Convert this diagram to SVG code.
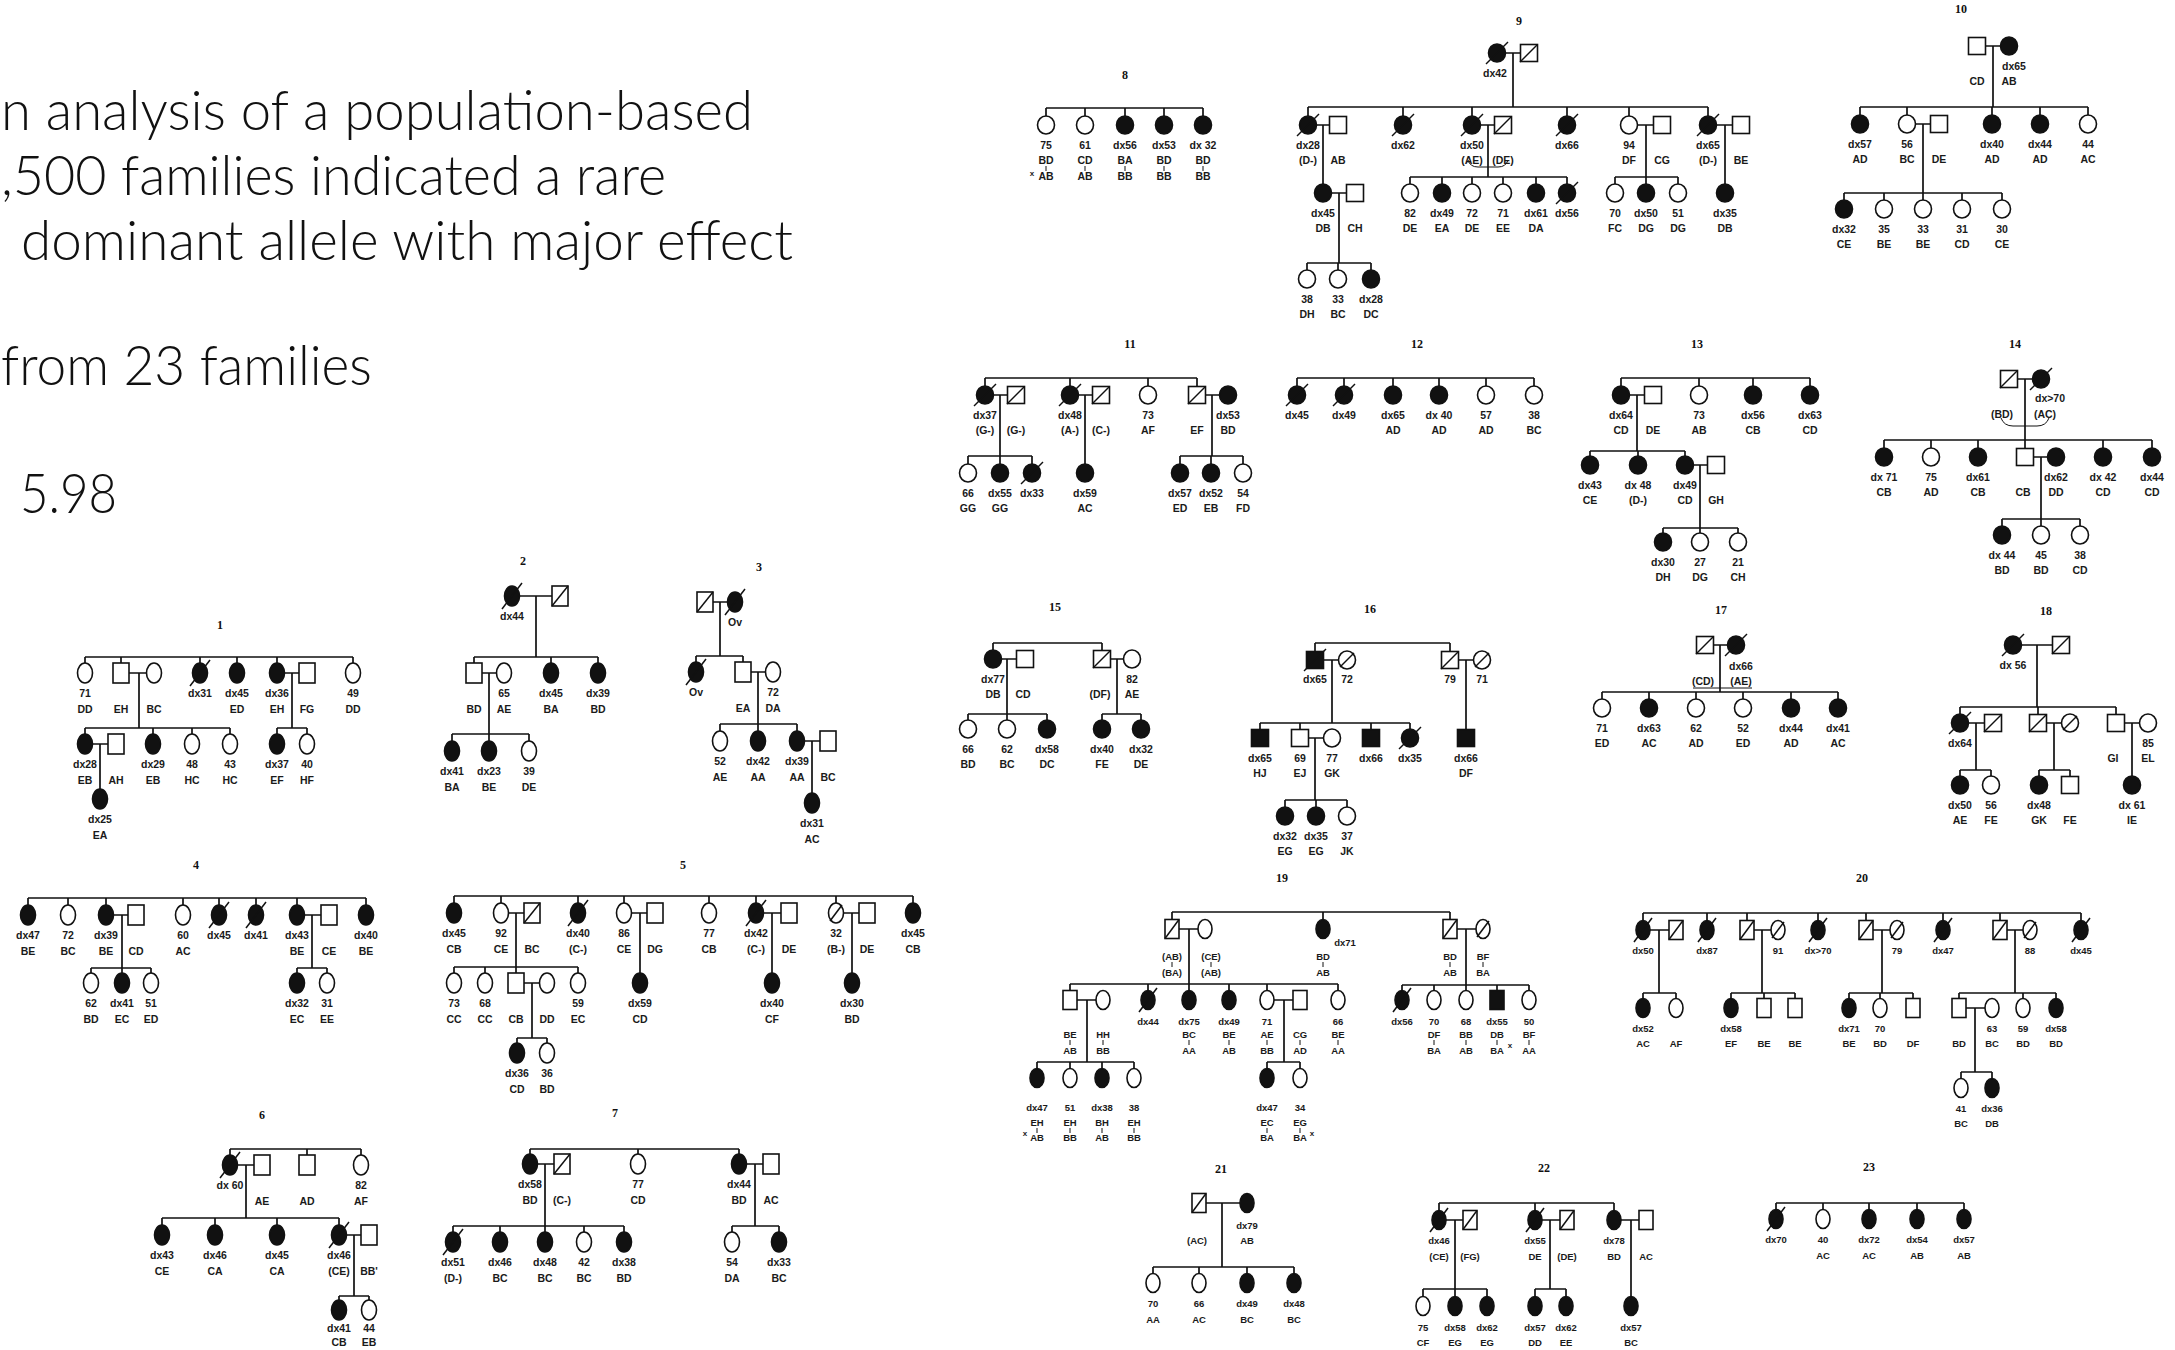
<svg xmlns="http://www.w3.org/2000/svg" width="2175" height="1350" viewBox="0 0 2175 1350">
<style>
.hd{font-family:Lato,'Open Sans','Liberation Sans',sans-serif;font-weight:300;font-size:55px;fill:#111}
.tt{font-family:'Liberation Serif','Times New Roman',serif;font-weight:bold;font-size:12px;text-anchor:middle;fill:#111}
.n text{font-family:'Liberation Sans',Arial,sans-serif;font-weight:bold;font-size:10.5px;text-anchor:middle;fill:#1a1a1a}
.s text{font-size:9.5px}
.n .x{font-size:8px}
.o{fill:#fff;stroke:#111;stroke-width:1.6}
.f{fill:#111;stroke:#111;stroke-width:1.6}
.sl{stroke:#111;stroke-width:1.5;fill:none}
.tk{stroke:#111;stroke-width:1;fill:none}
#connectors path{fill:none;stroke:#111;stroke-width:1.7}
#connectors path.br{stroke-width:1}
</style>
<defs>
<!-- pedigrees 1-7 -->
<ellipse id="aO" class="o" rx="7.5" ry="10"/>
<ellipse id="aF" class="f" rx="7.5" ry="10"/>
<rect id="aS" class="o" x="-8" y="-10" width="16" height="20"/>
<g id="aSX"><rect class="o" x="-8" y="-10" width="16" height="20"/><path class="sl" d="M-8,10L8,-10"/></g>
<g id="aOX"><ellipse class="o" rx="7.5" ry="10"/><path class="sl" d="M-6,8L6,-8"/></g>
<g id="aFX"><ellipse class="f" rx="7.5" ry="10"/><path class="sl" d="M-10,13L10,-13"/></g>
<!-- pedigrees 8-18 -->
<ellipse id="bO" class="o" rx="8.5" ry="9"/>
<ellipse id="bF" class="f" rx="8.5" ry="9"/>
<rect id="bS" class="o" x="-8.5" y="-8.5" width="17" height="17"/>
<rect id="bSF" class="f" x="-8.5" y="-8.5" width="17" height="17"/>
<g id="bSX"><rect class="o" x="-8.5" y="-8.5" width="17" height="17"/><path class="sl" d="M-9,9L8.5,-8.5"/></g>
<g id="bOX"><ellipse class="o" rx="8.5" ry="9"/><path class="sl" d="M-7,7L7,-7"/></g>
<g id="bFX"><ellipse class="f" rx="8.5" ry="9"/><path class="sl" d="M-11,11L11,-11"/></g>
<g id="bSFX"><rect class="f" x="-8.5" y="-8.5" width="17" height="17"/><path class="sl" d="M-11,11L11,-11"/></g>
<!-- pedigrees 19-23 -->
<ellipse id="cO" class="o" rx="7" ry="9.5"/>
<ellipse id="cF" class="f" rx="7" ry="9.5"/>
<rect id="cS" class="o" x="-7" y="-9.5" width="14" height="19"/>
<rect id="cSF" class="f" x="-7" y="-9.5" width="14" height="19"/>
<g id="cSX"><rect class="o" x="-7" y="-9.5" width="14" height="19"/><path class="sl" d="M-7,9.5L7,-9.5"/></g>
<g id="cOX"><ellipse class="o" rx="7" ry="9.5"/><path class="sl" d="M-6,8L6,-8"/></g>
<g id="cFX"><ellipse class="f" rx="7" ry="9.5"/><path class="sl" d="M-9,12L9,-12"/></g>
</defs>
<rect width="2175" height="1350" fill="#fff"/>

<g id="summary">
<text class="hd" x="1" y="130" textLength="752" lengthAdjust="spacingAndGlyphs">n analysis of a population-based</text>
<text class="hd" x="1" y="195" textLength="665" lengthAdjust="spacingAndGlyphs">,500 families indicated a rare</text>
<text class="hd" x="21" y="260" textLength="772" lengthAdjust="spacingAndGlyphs">dominant allele with major effect</text>
<text class="hd" x="1" y="385" textLength="371" lengthAdjust="spacingAndGlyphs">from 23 families</text>
<text class="hd" x="20" y="513" textLength="97" lengthAdjust="spacingAndGlyphs">5.98</text>
</g>

<g id="connectors">
<path id="c1" d="M85,657H353M85,657V663M121,657V663M200,657V663M237,657V663M277,657V663M353,657V663M129,673H146.5M139,673V728M284.5,673H299M292,673V728M85,728H230M85,728V734M153,728V734M192,728V734M230,728V734M92.5,744H108M100,744V789M277,728H307M277,728V734M307,728V734"/>
<path id="c2" d="M519.5,596H552M536,596V657M474,657H598M474,657V663M551,657V663M598,657V663M482,673H496.5M489,673V734M452,734H529M452,734V741M489,734V741M529,734V741"/>
<path id="c3" d="M713,602H727.5M720,602V656M696,656H743M696,656V662M743,656V662M751,672H765.5M758,672V724M720,724H797M720,724V731M758,724V731M797,724V731M804.5,741H820M812,741V793"/>
<path id="c4" d="M28,898H366M28,898V905M68,898V905M106,898V905M183,898V905M219,898V905M256,898V905M297,898V905M366,898V905M113.5,915H128M122,915V968M304.5,915H321M312,915V968M91,968H151M91,968V973M122,968V973M151,968V973M297,968H327M297,968V973M327,968V973"/>
<path id="c5" d="M454,896H913M454,896V903M501,896V903M578,896V903M624,896V903M709,896V903M756,896V903M836,896V903M913,896V903M508.5,913H524M516,913V967M631.5,913H647M640,913V973M763.5,913H781M772,913V973M843.5,913H859M852,913V973M454,967H578M454,967V973M485,967V973M516,967V973M578,967V973M524,983H539.5M532,983V1038M517,1038H547M517,1038V1043M547,1038V1043"/>
<path id="c6" d="M230,1149H361M230,1149V1155M307,1149V1155M361,1149V1155M237.5,1165H254M246,1165V1218M162,1218H339M162,1218V1225M215,1218V1225M277,1218V1225M339,1218V1225M346.5,1235H361M354,1235V1296M339,1296H369M339,1296V1300M369,1296V1300"/>
<path id="c7" d="M530,1149H739M530,1149V1154M638,1149V1154M739,1149V1154M537.5,1164H554M545,1164V1226M746.5,1164H763M755,1164V1226M453,1226H624M453,1226V1232M500,1226V1232M545,1226V1232M584,1226V1232M624,1226V1232M732,1226H779M732,1226V1232M779,1226V1232"/>
<path id="c8" d="M1046,108H1203M1046,108V116M1085,108V116M1125,108V116M1164,108V116M1203,108V116"/>
<path id="c9" d="M1505.5,53H1520.5M1513,53V107M1308,107H1708M1308,107V116M1403,107V116M1472,107V116M1567,107V116M1629,107V116M1708,107V116M1316.5,125H1329.5M1323,125V184M1480.5,125H1494.5M1488,125V177M1637.5,125H1653.5M1646,125V177M1716.5,125H1732.5M1725,125V184M1410,177H1567M1410,177V184M1442,177V184M1472,177V184M1503,177V184M1536,177V184M1567,177V184M1615,177H1678M1615,177V184M1646,177V184M1678,177V184M1331.5,193H1346.5M1339,193V263M1307,263H1371M1307,263V270M1338,263V270M1371,263V270"/>
<path class="br" d="M1468,160Q1470,167 1478,167H1498Q1506,167 1508,160"/>
<path id="c10" d="M1985.5,46H2000.5M1993,46V107M1860,107H2088M1860,107V115M1907,107V115M1992,107V115M2040,107V115M2088,107V115M1915.5,124H1930.5M1923,124V193M1844,193H2002M1844,193V200M1884,193V200M1923,193V200M1962,193V200M2002,193V200"/>
<path id="c11" d="M985,378H1197M985,378V386M1070,378V386M1148,378V386M1197,378V386.5M993.5,395H1007.5M1000,395V456M1078.5,395H1092.5M1085,395V464M1205.5,395H1219.5M1212,395V456M968,456H1032M968,456V464M1000,456V464M1032,456V464M1180,456H1243M1180,456V464M1211,456V464M1243,456V464"/>
<path id="c12" d="M1297,378H1534M1297,378V386M1344,378V386M1393,378V386M1439,378V386M1486,378V386M1534,378V386"/>
<path id="c13" d="M1621,378H1810M1621,378V386M1699,378V386M1753,378V386M1810,378V386M1629.5,395H1644.5M1637,395V451M1590,451H1685M1590,451V456M1638,451V456M1685,451V456M1693.5,465H1707.5M1700,465V528M1663,528H1738M1663,528V533M1700,528V533M1738,528V533"/>
<path id="c14" d="M2017.5,379H2032.5M2025,379V440M1884,440H2152M1884,440V448M1931,440V448M1978,440V448M2025,440V448.5M2103,440V448M2152,440V448M2033.5,457H2047.5M2041,457V519M2002,519H2080M2002,519V526M2041,519V526M2080,519V526"/>
<path class="br" d="M2001,418Q2004,426 2013,426H2037Q2046,426 2049,418"/>
<path id="c15" d="M993,643H1102M993,643V650M1102,643V650.5M1001.5,659H1016.5M1007,659V714M1110.5,659H1123.5M1117,659V714M968,714H1047M968,714V720M1007,714V720M1047,714V720M1102,714H1141M1102,714V720M1141,714V720"/>
<path id="c16" d="M1315,643H1450M1315,643V651.5M1450,643V651.5M1323.5,660H1338.5M1332,660V723M1458.5,660H1473.5M1466,660V729.5M1260,723H1410M1260,723V729.5M1300,723V729.5M1371,723V729.5M1410,723V729M1308.5,738H1323.5M1315,738V800M1285,800H1347M1285,800V807M1316,800V807M1347,800V807"/>
<path id="c17" d="M1713.5,645H1727.5M1720,645V692M1602,692H1838M1602,692V699M1649,692V699M1696,692V699M1743,692V699M1791,692V699M1838,692V699"/>
<path class="br" d="M1693,688H1752"/>
<path id="c18" d="M2021.5,645H2052.5M2037,645V707M1960,707H2116M1960,707V714M2038,707V714.5M2116,707V714.5M1968.5,723H1984.5M1976,723V770M2046.5,723H2061.5M2054,723V770M2124.5,723H2139.5M2132,723V776M1960,770H1991M1960,770V776M1991,770V776M2039,770H2070M2039,770V776M2070,770V776.5"/>
<path id="c19" d="M1172,912H1450M1172,912V919.5M1323,912V919.5M1450,912V919.5M1179,929H1198M1189,929V984M1457,929H1476M1466,929V985M1070,984H1338M1070,984V990.5M1148,984V990.5M1189,984V990.5M1229,984V990.5M1267,984V990.5M1338,984V990.5M1077,1000H1096M1087,1000V1062M1274,1000H1293M1284,1000V1062M1402,985H1529M1402,985V990.5M1434,985V990.5M1466,985V990.5M1497,985V990.5M1529,985V990.5M1037,1062H1134M1037,1062V1068.5M1070,1062V1068.5M1102,1062V1068.5M1134,1062V1068.5M1267,1062H1300M1267,1062V1068.5M1300,1062V1068.5"/>
<path id="c20" d="M1643,913H2081M1643,913V920.5M1707,913V920.5M1747,913V920.5M1818,913V920.5M1866,913V920.5M1943,913V920.5M2000,913V920.5M2081,913V920.5M1650,930H1669M1659,930V993M1754,930H1771M1762,930V993M1873,930H1890M1882,930V993M2007,930H2023M2015,930V993M1643,993H1676M1643,993V998.5M1676,993V998.5M1731,993H1795M1731,993V998.5M1764,993V998.5M1795,993V998.5M1849,993H1913M1849,993V998.5M1880,993V998.5M1913,993V998.5M1959,993H2056M1959,993V998.5M2023,993V998.5M2056,993V998.5M1966,1008H1985M1975,1008V1072M1961,1072H1992M1961,1072V1078.5M1992,1072V1078.5"/>
<path id="c21" d="M1206,1203H1240M1222,1203V1267M1153,1267H1294M1153,1267V1273.5M1199,1267V1273.5M1247,1267V1273.5M1294,1267V1273.5"/>
<path id="c22" d="M1439,1203H1614M1439,1203V1210.5M1535,1203V1210.5M1614,1203V1210.5M1446,1220H1463M1455,1220V1289M1542,1220H1560M1550,1220V1289M1621,1220H1639M1631,1220V1296.5M1423,1289H1487M1423,1289V1296.5M1455,1289V1296.5M1487,1289V1296.5M1535,1289H1566M1535,1289V1296.5M1566,1289V1296.5"/>
<path id="c23" d="M1776,1203H1964M1776,1203V1209.5M1823,1203V1209.5M1869,1203V1209.5M1917,1203V1209.5M1964,1203V1209.5"/>
</g>

<g id="pedigree-1">
<text class="tt" x="220" y="629">1</text>
<g id="p1-01" class="n" transform="translate(85,673)"><use href="#aO"/><text y="24">71</text><text y="40">DD</text></g>
<g id="p1-02" class="n" transform="translate(121,673)"><use href="#aS"/><text y="40">EH</text></g>
<g id="p1-03" class="n" transform="translate(154,673)"><use href="#aO"/><text y="40">BC</text></g>
<g id="p1-04" class="n" transform="translate(200,673)"><use href="#aFX"/><text y="24">dx31</text></g>
<g id="p1-05" class="n" transform="translate(237,673)"><use href="#aF"/><text y="24">dx45</text><text y="40">ED</text></g>
<g id="p1-06" class="n" transform="translate(277,673)"><use href="#aF"/><text y="24">dx36</text><text y="40">EH</text></g>
<g id="p1-07" class="n" transform="translate(307,673)"><use href="#aS"/><text y="40">FG</text></g>
<g id="p1-08" class="n" transform="translate(353,673)"><use href="#aO"/><text y="24">49</text><text y="40">DD</text></g>
<g id="p1-09" class="n" transform="translate(85,744)"><use href="#aF"/><text y="24">dx28</text><text y="40">EB</text></g>
<g id="p1-10" class="n" transform="translate(116,744)"><use href="#aS"/><text y="40">AH</text></g>
<g id="p1-11" class="n" transform="translate(153,744)"><use href="#aF"/><text y="24">dx29</text><text y="40">EB</text></g>
<g id="p1-12" class="n" transform="translate(192,744)"><use href="#aO"/><text y="24">48</text><text y="40">HC</text></g>
<g id="p1-13" class="n" transform="translate(230,744)"><use href="#aO"/><text y="24">43</text><text y="40">HC</text></g>
<g id="p1-14" class="n" transform="translate(277,744)"><use href="#aF"/><text y="24">dx37</text><text y="40">EF</text></g>
<g id="p1-15" class="n" transform="translate(307,744)"><use href="#aO"/><text y="24">40</text><text y="40">HF</text></g>
<g id="p1-16" class="n" transform="translate(100,799)"><use href="#aF"/><text y="24">dx25</text><text y="40">EA</text></g>
</g>

<g id="pedigree-2">
<text class="tt" x="523" y="565">2</text>
<g id="p2-01" class="n" transform="translate(512,596)"><use href="#aFX"/><text y="24">dx44</text></g>
<g id="p2-02" class="n" transform="translate(560,596)"><use href="#aSX"/></g>
<g id="p2-03" class="n" transform="translate(474,673)"><use href="#aS"/><text y="40">BD</text></g>
<g id="p2-04" class="n" transform="translate(504,673)"><use href="#aO"/><text y="24">65</text><text y="40">AE</text></g>
<g id="p2-05" class="n" transform="translate(551,673)"><use href="#aF"/><text y="24">dx45</text><text y="40">BA</text></g>
<g id="p2-06" class="n" transform="translate(598,673)"><use href="#aF"/><text y="24">dx39</text><text y="40">BD</text></g>
<g id="p2-07" class="n" transform="translate(452,751)"><use href="#aF"/><text y="24">dx41</text><text y="40">BA</text></g>
<g id="p2-08" class="n" transform="translate(489,751)"><use href="#aF"/><text y="24">dx23</text><text y="40">BE</text></g>
<g id="p2-09" class="n" transform="translate(529,751)"><use href="#aO"/><text y="24">39</text><text y="40">DE</text></g>
</g>

<g id="pedigree-3">
<text class="tt" x="759" y="571">3</text>
<g id="p3-01" class="n" transform="translate(705,602)"><use href="#aSX"/></g>
<g id="p3-02" class="n" transform="translate(735,602)"><use href="#aFX"/><text y="24">Ov</text></g>
<g id="p3-03" class="n" transform="translate(696,672)"><use href="#aFX"/><text y="24">Ov</text></g>
<g id="p3-04" class="n" transform="translate(743,672)"><use href="#aS"/><text y="40">EA</text></g>
<g id="p3-05" class="n" transform="translate(773,672)"><use href="#aO"/><text y="24">72</text><text y="40">DA</text></g>
<g id="p3-06" class="n" transform="translate(720,741)"><use href="#aO"/><text y="24">52</text><text y="40">AE</text></g>
<g id="p3-07" class="n" transform="translate(758,741)"><use href="#aF"/><text y="24">dx42</text><text y="40">AA</text></g>
<g id="p3-08" class="n" transform="translate(797,741)"><use href="#aF"/><text y="24">dx39</text><text y="40">AA</text></g>
<g id="p3-09" class="n" transform="translate(828,741)"><use href="#aS"/><text y="40">BC</text></g>
<g id="p3-10" class="n" transform="translate(812,803)"><use href="#aF"/><text y="24">dx31</text><text y="40">AC</text></g>
</g>

<g id="pedigree-4">
<text class="tt" x="196" y="869">4</text>
<g id="p4-01" class="n" transform="translate(28,915)"><use href="#aF"/><text y="24">dx47</text><text y="40">BE</text></g>
<g id="p4-02" class="n" transform="translate(68,915)"><use href="#aO"/><text y="24">72</text><text y="40">BC</text></g>
<g id="p4-03" class="n" transform="translate(106,915)"><use href="#aF"/><text y="24">dx39</text><text y="40">BE</text></g>
<g id="p4-04" class="n" transform="translate(136,915)"><use href="#aS"/><text y="40">CD</text></g>
<g id="p4-05" class="n" transform="translate(183,915)"><use href="#aO"/><text y="24">60</text><text y="40">AC</text></g>
<g id="p4-06" class="n" transform="translate(219,915)"><use href="#aFX"/><text y="24">dx45</text></g>
<g id="p4-07" class="n" transform="translate(256,915)"><use href="#aFX"/><text y="24">dx41</text></g>
<g id="p4-08" class="n" transform="translate(297,915)"><use href="#aF"/><text y="24">dx43</text><text y="40">BE</text></g>
<g id="p4-09" class="n" transform="translate(329,915)"><use href="#aS"/><text y="40">CE</text></g>
<g id="p4-10" class="n" transform="translate(366,915)"><use href="#aF"/><text y="24">dx40</text><text y="40">BE</text></g>
<g id="p4-11" class="n" transform="translate(91,983)"><use href="#aO"/><text y="24">62</text><text y="40">BD</text></g>
<g id="p4-12" class="n" transform="translate(122,983)"><use href="#aF"/><text y="24">dx41</text><text y="40">EC</text></g>
<g id="p4-13" class="n" transform="translate(151,983)"><use href="#aO"/><text y="24">51</text><text y="40">ED</text></g>
<g id="p4-14" class="n" transform="translate(297,983)"><use href="#aF"/><text y="24">dx32</text><text y="40">EC</text></g>
<g id="p4-15" class="n" transform="translate(327,983)"><use href="#aO"/><text y="24">31</text><text y="40">EE</text></g>
</g>

<g id="pedigree-5">
<text class="tt" x="683" y="869">5</text>
<g id="p5-01" class="n" transform="translate(454,913)"><use href="#aF"/><text y="24">dx45</text><text y="40">CB</text></g>
<g id="p5-02" class="n" transform="translate(501,913)"><use href="#aO"/><text y="24">92</text><text y="40">CE</text></g>
<g id="p5-03" class="n" transform="translate(532,913)"><use href="#aSX"/><text y="40">BC</text></g>
<g id="p5-04" class="n" transform="translate(578,913)"><use href="#aFX"/><text y="24">dx40</text><text y="40">(C-)</text></g>
<g id="p5-05" class="n" transform="translate(624,913)"><use href="#aO"/><text y="24">86</text><text y="40">CE</text></g>
<g id="p5-06" class="n" transform="translate(655,913)"><use href="#aS"/><text y="40">DG</text></g>
<g id="p5-07" class="n" transform="translate(709,913)"><use href="#aO"/><text y="24">77</text><text y="40">CB</text></g>
<g id="p5-08" class="n" transform="translate(756,913)"><use href="#aFX"/><text y="24">dx42</text><text y="40">(C-)</text></g>
<g id="p5-09" class="n" transform="translate(789,913)"><use href="#aS"/><text y="40">DE</text></g>
<g id="p5-10" class="n" transform="translate(836,913)"><use href="#aOX"/><text y="24">32</text><text y="40">(B-)</text></g>
<g id="p5-11" class="n" transform="translate(867,913)"><use href="#aS"/><text y="40">DE</text></g>
<g id="p5-12" class="n" transform="translate(913,913)"><use href="#aF"/><text y="24">dx45</text><text y="40">CB</text></g>
<g id="p5-13" class="n" transform="translate(454,983)"><use href="#aO"/><text y="24">73</text><text y="40">CC</text></g>
<g id="p5-14" class="n" transform="translate(485,983)"><use href="#aO"/><text y="24">68</text><text y="40">CC</text></g>
<g id="p5-15" class="n" transform="translate(516,983)"><use href="#aS"/><text y="40">CB</text></g>
<g id="p5-16" class="n" transform="translate(547,983)"><use href="#aO"/><text y="40">DD</text></g>
<g id="p5-17" class="n" transform="translate(578,983)"><use href="#aO"/><text y="24">59</text><text y="40">EC</text></g>
<g id="p5-18" class="n" transform="translate(640,983)"><use href="#aF"/><text y="24">dx59</text><text y="40">CD</text></g>
<g id="p5-19" class="n" transform="translate(772,983)"><use href="#aF"/><text y="24">dx40</text><text y="40">CF</text></g>
<g id="p5-20" class="n" transform="translate(852,983)"><use href="#aF"/><text y="24">dx30</text><text y="40">BD</text></g>
<g id="p5-21" class="n" transform="translate(517,1053)"><use href="#aF"/><text y="24">dx36</text><text y="40">CD</text></g>
<g id="p5-22" class="n" transform="translate(547,1053)"><use href="#aO"/><text y="24">36</text><text y="40">BD</text></g>
</g>

<g id="pedigree-6">
<text class="tt" x="262" y="1119">6</text>
<g id="p6-01" class="n" transform="translate(230,1165)"><use href="#aFX"/><text y="24">dx 60</text></g>
<g id="p6-02" class="n" transform="translate(262,1165)"><use href="#aS"/><text y="40">AE</text></g>
<g id="p6-03" class="n" transform="translate(307,1165)"><use href="#aS"/><text y="40">AD</text></g>
<g id="p6-04" class="n" transform="translate(361,1165)"><use href="#aO"/><text y="24">82</text><text y="40">AF</text></g>
<g id="p6-05" class="n" transform="translate(162,1235)"><use href="#aF"/><text y="24">dx43</text><text y="40">CE</text></g>
<g id="p6-06" class="n" transform="translate(215,1235)"><use href="#aF"/><text y="24">dx46</text><text y="40">CA</text></g>
<g id="p6-07" class="n" transform="translate(277,1235)"><use href="#aF"/><text y="24">dx45</text><text y="40">CA</text></g>
<g id="p6-08" class="n" transform="translate(339,1235)"><use href="#aFX"/><text y="24">dx46</text><text y="40">(CE)</text></g>
<g id="p6-09" class="n" transform="translate(369,1235)"><use href="#aS"/><text y="40">BB'</text></g>
<g id="p6-10" class="n" transform="translate(339,1310)"><use href="#aF"/><text y="22">dx41</text><text y="36">CB</text></g>
<g id="p6-11" class="n" transform="translate(369,1310)"><use href="#aO"/><text y="22">44</text><text y="36">EB</text></g>
</g>

<g id="pedigree-7">
<text class="tt" x="615" y="1117">7</text>
<g id="p7-01" class="n" transform="translate(530,1164)"><use href="#aF"/><text y="24">dx58</text><text y="40">BD</text></g>
<g id="p7-02" class="n" transform="translate(562,1164)"><use href="#aSX"/><text y="40">(C-)</text></g>
<g id="p7-03" class="n" transform="translate(638,1164)"><use href="#aO"/><text y="24">77</text><text y="40">CD</text></g>
<g id="p7-04" class="n" transform="translate(739,1164)"><use href="#aF"/><text y="24">dx44</text><text y="40">BD</text></g>
<g id="p7-05" class="n" transform="translate(771,1164)"><use href="#aS"/><text y="40">AC</text></g>
<g id="p7-06" class="n" transform="translate(453,1242)"><use href="#aFX"/><text y="24">dx51</text><text y="40">(D-)</text></g>
<g id="p7-07" class="n" transform="translate(500,1242)"><use href="#aF"/><text y="24">dx46</text><text y="40">BC</text></g>
<g id="p7-08" class="n" transform="translate(545,1242)"><use href="#aF"/><text y="24">dx48</text><text y="40">BC</text></g>
<g id="p7-09" class="n" transform="translate(584,1242)"><use href="#aO"/><text y="24">42</text><text y="40">BC</text></g>
<g id="p7-10" class="n" transform="translate(624,1242)"><use href="#aF"/><text y="24">dx38</text><text y="40">BD</text></g>
<g id="p7-11" class="n" transform="translate(732,1242)"><use href="#aO"/><text y="24">54</text><text y="40">DA</text></g>
<g id="p7-12" class="n" transform="translate(779,1242)"><use href="#aF"/><text y="24">dx33</text><text y="40">BC</text></g>
</g>

<g id="pedigree-8">
<text class="tt" x="1125" y="79">8</text>
<g id="p8-01" class="n" transform="translate(1046,125)"><use href="#bO"/><text y="24">75</text><text y="39">BD</text><path class="tk" d="M0,41v5"/><text y="55">AB</text><text class="x" x="-14" y="51">x</text></g>
<g id="p8-02" class="n" transform="translate(1085,125)"><use href="#bO"/><text y="24">61</text><text y="39">CD</text><path class="tk" d="M0,41v5"/><text y="55">AB</text></g>
<g id="p8-03" class="n" transform="translate(1125,125)"><use href="#bF"/><text y="24">dx56</text><text y="39">BA</text><path class="tk" d="M0,41v5"/><text y="55">BB</text></g>
<g id="p8-04" class="n" transform="translate(1164,125)"><use href="#bF"/><text y="24">dx53</text><text y="39">BD</text><path class="tk" d="M0,41v5"/><text y="55">BB</text></g>
<g id="p8-05" class="n" transform="translate(1203,125)"><use href="#bF"/><text y="24">dx 32</text><text y="39">BD</text><path class="tk" d="M0,41v5"/><text y="55">BB</text></g>
</g>

<g id="pedigree-9">
<text class="tt" x="1519" y="25">9</text>
<g id="p9-01" class="n" transform="translate(1497,53)"><use href="#bFX"/><text x="-2" y="24">dx42</text></g>
<g id="p9-02" class="n" transform="translate(1529,53)"><use href="#bSX"/></g>
<g id="p9-03" class="n" transform="translate(1308,125)"><use href="#bFX"/><text y="24">dx28</text><text y="39">(D-)</text></g>
<g id="p9-04" class="n" transform="translate(1338,125)"><use href="#bS"/><text y="39">AB</text></g>
<g id="p9-05" class="n" transform="translate(1403,125)"><use href="#bFX"/><text y="24">dx62</text></g>
<g id="p9-06" class="n" transform="translate(1472,125)"><use href="#bFX"/><text y="24">dx50</text><text y="39">(AE)</text></g>
<g id="p9-07" class="n" transform="translate(1503,125)"><use href="#bSX"/><text y="39">(DE)</text></g>
<g id="p9-08" class="n" transform="translate(1567,125)"><use href="#bFX"/><text y="24">dx66</text></g>
<g id="p9-09" class="n" transform="translate(1629,125)"><use href="#bO"/><text y="24">94</text><text y="39">DF</text></g>
<g id="p9-10" class="n" transform="translate(1662,125)"><use href="#bS"/><text y="39">CG</text></g>
<g id="p9-11" class="n" transform="translate(1708,125)"><use href="#bFX"/><text y="24">dx65</text><text y="39">(D-)</text></g>
<g id="p9-12" class="n" transform="translate(1741,125)"><use href="#bS"/><text y="39">BE</text></g>
<g id="p9-13" class="n" transform="translate(1323,193)"><use href="#bF"/><text y="24">dx45</text><text y="39">DB</text></g>
<g id="p9-14" class="n" transform="translate(1355,193)"><use href="#bS"/><text y="39">CH</text></g>
<g id="p9-15" class="n" transform="translate(1410,193)"><use href="#bO"/><text y="24">82</text><text y="39">DE</text></g>
<g id="p9-16" class="n" transform="translate(1442,193)"><use href="#bF"/><text y="24">dx49</text><text y="39">EA</text></g>
<g id="p9-17" class="n" transform="translate(1472,193)"><use href="#bO"/><text y="24">72</text><text y="39">DE</text></g>
<g id="p9-18" class="n" transform="translate(1503,193)"><use href="#bO"/><text y="24">71</text><text y="39">EE</text></g>
<g id="p9-19" class="n" transform="translate(1536,193)"><use href="#bF"/><text y="24">dx61</text><text y="39">DA</text></g>
<g id="p9-20" class="n" transform="translate(1567,193)"><use href="#bFX"/><text y="24">dx56</text></g>
<g id="p9-21" class="n" transform="translate(1615,193)"><use href="#bO"/><text y="24">70</text><text y="39">FC</text></g>
<g id="p9-22" class="n" transform="translate(1646,193)"><use href="#bF"/><text y="24">dx50</text><text y="39">DG</text></g>
<g id="p9-23" class="n" transform="translate(1678,193)"><use href="#bO"/><text y="24">51</text><text y="39">DG</text></g>
<g id="p9-24" class="n" transform="translate(1725,193)"><use href="#bF"/><text y="24">dx35</text><text y="39">DB</text></g>
<g id="p9-25" class="n" transform="translate(1307,279)"><use href="#bO"/><text y="24">38</text><text y="39">DH</text></g>
<g id="p9-26" class="n" transform="translate(1338,279)"><use href="#bO"/><text y="24">33</text><text y="39">BC</text></g>
<g id="p9-27" class="n" transform="translate(1371,279)"><use href="#bF"/><text y="24">dx28</text><text y="39">DC</text></g>
</g>

<g id="pedigree-10">
<text class="tt" x="1961" y="13">10</text>
<g id="p10-01" class="n" transform="translate(1977,46)"><use href="#bS"/><text y="39">CD</text></g>
<g id="p10-02" class="n" transform="translate(2009,46)"><use href="#bF"/><text x="5" y="24">dx65</text><text y="39">AB</text></g>
<g id="p10-03" class="n" transform="translate(1860,124)"><use href="#bF"/><text y="24">dx57</text><text y="39">AD</text></g>
<g id="p10-04" class="n" transform="translate(1907,124)"><use href="#bO"/><text y="24">56</text><text y="39">BC</text></g>
<g id="p10-05" class="n" transform="translate(1939,124)"><use href="#bS"/><text y="39">DE</text></g>
<g id="p10-06" class="n" transform="translate(1992,124)"><use href="#bF"/><text y="24">dx40</text><text y="39">AD</text></g>
<g id="p10-07" class="n" transform="translate(2040,124)"><use href="#bF"/><text y="24">dx44</text><text y="39">AD</text></g>
<g id="p10-08" class="n" transform="translate(2088,124)"><use href="#bO"/><text y="24">44</text><text y="39">AC</text></g>
<g id="p10-09" class="n" transform="translate(1844,209)"><use href="#bF"/><text y="24">dx32</text><text y="39">CE</text></g>
<g id="p10-10" class="n" transform="translate(1884,209)"><use href="#bO"/><text y="24">35</text><text y="39">BE</text></g>
<g id="p10-11" class="n" transform="translate(1923,209)"><use href="#bO"/><text y="24">33</text><text y="39">BE</text></g>
<g id="p10-12" class="n" transform="translate(1962,209)"><use href="#bO"/><text y="24">31</text><text y="39">CD</text></g>
<g id="p10-13" class="n" transform="translate(2002,209)"><use href="#bO"/><text y="24">30</text><text y="39">CE</text></g>
</g>

<g id="pedigree-11">
<text class="tt" x="1130" y="348">11</text>
<g id="p11-01" class="n" transform="translate(985,395)"><use href="#bFX"/><text y="24">dx37</text><text y="39">(G-)</text></g>
<g id="p11-02" class="n" transform="translate(1016,395)"><use href="#bSX"/><text y="39">(G-)</text></g>
<g id="p11-03" class="n" transform="translate(1070,395)"><use href="#bFX"/><text y="24">dx48</text><text y="39">(A-)</text></g>
<g id="p11-04" class="n" transform="translate(1101,395)"><use href="#bSX"/><text y="39">(C-)</text></g>
<g id="p11-05" class="n" transform="translate(1148,395)"><use href="#bO"/><text y="24">73</text><text y="39">AF</text></g>
<g id="p11-06" class="n" transform="translate(1197,395)"><use href="#bSX"/><text y="39">EF</text></g>
<g id="p11-07" class="n" transform="translate(1228,395)"><use href="#bF"/><text y="24">dx53</text><text y="39">BD</text></g>
<g id="p11-08" class="n" transform="translate(968,473)"><use href="#bO"/><text y="24">66</text><text y="39">GG</text></g>
<g id="p11-09" class="n" transform="translate(1000,473)"><use href="#bF"/><text y="24">dx55</text><text y="39">GG</text></g>
<g id="p11-10" class="n" transform="translate(1032,473)"><use href="#bFX"/><text y="24">dx33</text></g>
<g id="p11-11" class="n" transform="translate(1085,473)"><use href="#bF"/><text y="24">dx59</text><text y="39">AC</text></g>
<g id="p11-12" class="n" transform="translate(1180,473)"><use href="#bF"/><text y="24">dx57</text><text y="39">ED</text></g>
<g id="p11-13" class="n" transform="translate(1211,473)"><use href="#bF"/><text y="24">dx52</text><text y="39">EB</text></g>
<g id="p11-14" class="n" transform="translate(1243,473)"><use href="#bO"/><text y="24">54</text><text y="39">FD</text></g>
</g>

<g id="pedigree-12">
<text class="tt" x="1417" y="348">12</text>
<g id="p12-01" class="n" transform="translate(1297,395)"><use href="#bFX"/><text y="24">dx45</text></g>
<g id="p12-02" class="n" transform="translate(1344,395)"><use href="#bFX"/><text y="24">dx49</text></g>
<g id="p12-03" class="n" transform="translate(1393,395)"><use href="#bF"/><text y="24">dx65</text><text y="39">AD</text></g>
<g id="p12-04" class="n" transform="translate(1439,395)"><use href="#bF"/><text y="24">dx 40</text><text y="39">AD</text></g>
<g id="p12-05" class="n" transform="translate(1486,395)"><use href="#bO"/><text y="24">57</text><text y="39">AD</text></g>
<g id="p12-06" class="n" transform="translate(1534,395)"><use href="#bO"/><text y="24">38</text><text y="39">BC</text></g>
</g>

<g id="pedigree-13">
<text class="tt" x="1697" y="348">13</text>
<g id="p13-01" class="n" transform="translate(1621,395)"><use href="#bF"/><text y="24">dx64</text><text y="39">CD</text></g>
<g id="p13-02" class="n" transform="translate(1653,395)"><use href="#bS"/><text y="39">DE</text></g>
<g id="p13-03" class="n" transform="translate(1699,395)"><use href="#bO"/><text y="24">73</text><text y="39">AB</text></g>
<g id="p13-04" class="n" transform="translate(1753,395)"><use href="#bF"/><text y="24">dx56</text><text y="39">CB</text></g>
<g id="p13-05" class="n" transform="translate(1810,395)"><use href="#bF"/><text y="24">dx63</text><text y="39">CD</text></g>
<g id="p13-06" class="n" transform="translate(1590,465)"><use href="#bF"/><text y="24">dx43</text><text y="39">CE</text></g>
<g id="p13-07" class="n" transform="translate(1638,465)"><use href="#bF"/><text y="24">dx 48</text><text y="39">(D-)</text></g>
<g id="p13-08" class="n" transform="translate(1685,465)"><use href="#bF"/><text y="24">dx49</text><text y="39">CD</text></g>
<g id="p13-09" class="n" transform="translate(1716,465)"><use href="#bS"/><text y="39">GH</text></g>
<g id="p13-10" class="n" transform="translate(1663,542)"><use href="#bF"/><text y="24">dx30</text><text y="39">DH</text></g>
<g id="p13-11" class="n" transform="translate(1700,542)"><use href="#bO"/><text y="24">27</text><text y="39">DG</text></g>
<g id="p13-12" class="n" transform="translate(1738,542)"><use href="#bO"/><text y="24">21</text><text y="39">CH</text></g>
</g>

<g id="pedigree-14">
<text class="tt" x="2015" y="348">14</text>
<g id="p14-01" class="n" transform="translate(2009,379)"><use href="#bSX"/><text x="-7" y="39">(BD)</text></g>
<g id="p14-02" class="n" transform="translate(2041,379)"><use href="#bFX"/><text x="9" y="23">dx&gt;70</text><text x="4" y="39">(AC)</text></g>
<g id="p14-03" class="n" transform="translate(1884,457)"><use href="#bF"/><text y="24">dx 71</text><text y="39">CB</text></g>
<g id="p14-04" class="n" transform="translate(1931,457)"><use href="#bO"/><text y="24">75</text><text y="39">AD</text></g>
<g id="p14-05" class="n" transform="translate(1978,457)"><use href="#bF"/><text y="24">dx61</text><text y="39">CB</text></g>
<g id="p14-06" class="n" transform="translate(2025,457)"><use href="#bS"/><text x="-2" y="39">CB</text></g>
<g id="p14-07" class="n" transform="translate(2056,457)"><use href="#bF"/><text y="24">dx62</text><text y="39">DD</text></g>
<g id="p14-08" class="n" transform="translate(2103,457)"><use href="#bF"/><text y="24">dx 42</text><text y="39">CD</text></g>
<g id="p14-09" class="n" transform="translate(2152,457)"><use href="#bF"/><text y="24">dx44</text><text y="39">CD</text></g>
<g id="p14-10" class="n" transform="translate(2002,535)"><use href="#bF"/><text y="24">dx 44</text><text y="39">BD</text></g>
<g id="p14-11" class="n" transform="translate(2041,535)"><use href="#bO"/><text y="24">45</text><text y="39">BD</text></g>
<g id="p14-12" class="n" transform="translate(2080,535)"><use href="#bO"/><text y="24">38</text><text y="39">CD</text></g>
</g>

<g id="pedigree-15">
<text class="tt" x="1055" y="611">15</text>
<g id="p15-01" class="n" transform="translate(993,659)"><use href="#bF"/><text y="24">dx77</text><text y="39">DB</text></g>
<g id="p15-02" class="n" transform="translate(1025,659)"><use href="#bS"/><text x="-2" y="39">CD</text></g>
<g id="p15-03" class="n" transform="translate(1102,659)"><use href="#bSX"/><text x="-2" y="39">(DF)</text></g>
<g id="p15-04" class="n" transform="translate(1132,659)"><use href="#bO"/><text y="24">82</text><text y="39">AE</text></g>
<g id="p15-05" class="n" transform="translate(968,729)"><use href="#bO"/><text y="24">66</text><text y="39">BD</text></g>
<g id="p15-06" class="n" transform="translate(1007,729)"><use href="#bO"/><text y="24">62</text><text y="39">BC</text></g>
<g id="p15-07" class="n" transform="translate(1047,729)"><use href="#bF"/><text y="24">dx58</text><text y="39">DC</text></g>
<g id="p15-08" class="n" transform="translate(1102,729)"><use href="#bF"/><text y="24">dx40</text><text y="39">FE</text></g>
<g id="p15-09" class="n" transform="translate(1141,729)"><use href="#bF"/><text y="24">dx32</text><text y="39">DE</text></g>
</g>

<g id="pedigree-16">
<text class="tt" x="1370" y="613">16</text>
<g id="p16-01" class="n" transform="translate(1315,660)"><use href="#bSFX"/><text y="23">dx65</text></g>
<g id="p16-02" class="n" transform="translate(1347,660)"><use href="#bOX"/><text y="23">72</text></g>
<g id="p16-03" class="n" transform="translate(1450,660)"><use href="#bSX"/><text y="23">79</text></g>
<g id="p16-04" class="n" transform="translate(1482,660)"><use href="#bOX"/><text y="23">71</text></g>
<g id="p16-05" class="n" transform="translate(1260,738)"><use href="#bSF"/><text y="24">dx65</text><text y="39">HJ</text></g>
<g id="p16-06" class="n" transform="translate(1300,738)"><use href="#bS"/><text y="24">69</text><text y="39">EJ</text></g>
<g id="p16-07" class="n" transform="translate(1332,738)"><use href="#bO"/><text y="24">77</text><text y="39">GK</text></g>
<g id="p16-08" class="n" transform="translate(1371,738)"><use href="#bSF"/><text y="24">dx66</text></g>
<g id="p16-09" class="n" transform="translate(1410,738)"><use href="#bFX"/><text y="24">dx35</text></g>
<g id="p16-10" class="n" transform="translate(1466,738)"><use href="#bSF"/><text y="24">dx66</text><text y="39">DF</text></g>
<g id="p16-11" class="n" transform="translate(1285,816)"><use href="#bF"/><text y="24">dx32</text><text y="39">EG</text></g>
<g id="p16-12" class="n" transform="translate(1316,816)"><use href="#bF"/><text y="24">dx35</text><text y="39">EG</text></g>
<g id="p16-13" class="n" transform="translate(1347,816)"><use href="#bO"/><text y="24">37</text><text y="39">JK</text></g>
</g>

<g id="pedigree-17">
<text class="tt" x="1721" y="614">17</text>
<g id="p17-01" class="n" transform="translate(1705,645)"><use href="#bSX"/><text x="-2" y="40">(CD)</text></g>
<g id="p17-02" class="n" transform="translate(1736,645)"><use href="#bFX"/><text x="5" y="25">dx66</text><text x="5" y="40">(AE)</text></g>
<g id="p17-03" class="n" transform="translate(1602,708)"><use href="#bO"/><text y="24">71</text><text y="39">ED</text></g>
<g id="p17-04" class="n" transform="translate(1649,708)"><use href="#bF"/><text y="24">dx63</text><text y="39">AC</text></g>
<g id="p17-05" class="n" transform="translate(1696,708)"><use href="#bO"/><text y="24">62</text><text y="39">AD</text></g>
<g id="p17-06" class="n" transform="translate(1743,708)"><use href="#bO"/><text y="24">52</text><text y="39">ED</text></g>
<g id="p17-07" class="n" transform="translate(1791,708)"><use href="#bF"/><text y="24">dx44</text><text y="39">AD</text></g>
<g id="p17-08" class="n" transform="translate(1838,708)"><use href="#bF"/><text y="24">dx41</text><text y="39">AC</text></g>
</g>

<g id="pedigree-18">
<text class="tt" x="2046" y="615">18</text>
<g id="p18-01" class="n" transform="translate(2013,645)"><use href="#bFX"/><text y="24">dx 56</text></g>
<g id="p18-02" class="n" transform="translate(2061,645)"><use href="#bSX"/></g>
<g id="p18-03" class="n" transform="translate(1960,723)"><use href="#bFX"/><text y="24">dx64</text></g>
<g id="p18-04" class="n" transform="translate(1993,723)"><use href="#bSX"/></g>
<g id="p18-05" class="n" transform="translate(2038,723)"><use href="#bSX"/></g>
<g id="p18-06" class="n" transform="translate(2070,723)"><use href="#bOX"/></g>
<g id="p18-07" class="n" transform="translate(2116,723)"><use href="#bS"/><text x="-3" y="39">GI</text></g>
<g id="p18-08" class="n" transform="translate(2148,723)"><use href="#bO"/><text y="24">85</text><text y="39">EL</text></g>
<g id="p18-09" class="n" transform="translate(1960,785)"><use href="#bF"/><text y="24">dx50</text><text y="39">AE</text></g>
<g id="p18-10" class="n" transform="translate(1991,785)"><use href="#bO"/><text y="24">56</text><text y="39">FE</text></g>
<g id="p18-11" class="n" transform="translate(2039,785)"><use href="#bF"/><text y="24">dx48</text><text y="39">GK</text></g>
<g id="p18-12" class="n" transform="translate(2070,785)"><use href="#bS"/><text y="39">FE</text></g>
<g id="p18-13" class="n" transform="translate(2132,785)"><use href="#bF"/><text y="24">dx 61</text><text y="39">IE</text></g>
</g>

<g id="pedigree-19">
<text class="tt" x="1282" y="882">19</text>
<g id="p19-01" class="n s" transform="translate(1172,929)"><use href="#cSX"/><text y="31">(AB)</text><path class="tk" d="M0,33v5"/><text y="47">(BA)</text></g>
<g id="p19-02" class="n s" transform="translate(1205,929)"><use href="#cO"/><text x="6" y="31">(CE)</text><path class="tk" d="M6,33v5"/><text x="6" y="47">(AB)</text></g>
<g id="p19-03" class="n s" transform="translate(1323,929)"><use href="#cF"/><text x="22" y="17">dx71</text><text y="31">BD</text><path class="tk" d="M0,33v5"/><text y="47">AB</text></g>
<g id="p19-04" class="n s" transform="translate(1450,929)"><use href="#cSX"/><text y="31">BD</text><path class="tk" d="M0,33v5"/><text y="47">AB</text></g>
<g id="p19-05" class="n s" transform="translate(1483,929)"><use href="#cOX"/><text y="31">BF</text><path class="tk" d="M0,33v5"/><text y="47">BA</text></g>
<g id="p19-06" class="n s" transform="translate(1070,1000)"><use href="#cS"/><text y="38">BE</text><path class="tk" d="M0,40v5"/><text y="54">AB</text></g>
<g id="p19-07" class="n s" transform="translate(1103,1000)"><use href="#cO"/><text y="38">HH</text><path class="tk" d="M0,40v5"/><text y="54">BB</text></g>
<g id="p19-08" class="n s" transform="translate(1148,1000)"><use href="#cFX"/><text y="25">dx44</text></g>
<g id="p19-09" class="n s" transform="translate(1189,1000)"><use href="#cF"/><text y="25">dx75</text><text y="38">BC</text><path class="tk" d="M0,40v5"/><text y="54">AA</text></g>
<g id="p19-10" class="n s" transform="translate(1229,1000)"><use href="#cF"/><text y="25">dx49</text><text y="38">BE</text><path class="tk" d="M0,40v5"/><text y="54">AB</text></g>
<g id="p19-11" class="n s" transform="translate(1267,1000)"><use href="#cO"/><text y="25">71</text><text y="38">AE</text><path class="tk" d="M0,40v5"/><text y="54">BB</text></g>
<g id="p19-12" class="n s" transform="translate(1300,1000)"><use href="#cS"/><text y="38">CG</text><path class="tk" d="M0,40v5"/><text y="54">AD</text></g>
<g id="p19-13" class="n s" transform="translate(1338,1000)"><use href="#cO"/><text y="25">66</text><text y="38">BE</text><path class="tk" d="M0,40v5"/><text y="54">AA</text></g>
<g id="p19-14" class="n s" transform="translate(1402,1000)"><use href="#cFX"/><text y="25">dx56</text></g>
<g id="p19-15" class="n s" transform="translate(1434,1000)"><use href="#cO"/><text y="25">70</text><text y="38">DF</text><path class="tk" d="M0,40v5"/><text y="54">BA</text></g>
<g id="p19-16" class="n s" transform="translate(1466,1000)"><use href="#cO"/><text y="25">68</text><text y="38">BB</text><path class="tk" d="M0,40v5"/><text y="54">AB</text></g>
<g id="p19-17" class="n s" transform="translate(1497,1000)"><use href="#cSF"/><text y="25">dx55</text><text y="38">DB</text><path class="tk" d="M0,40v5"/><text y="54">BA</text><text class="x" x="13" y="48">x</text></g>
<g id="p19-18" class="n s" transform="translate(1529,1000)"><use href="#cO"/><text y="25">50</text><text y="38">BF</text><path class="tk" d="M0,40v5"/><text y="54">AA</text></g>
<g id="p19-19" class="n s" transform="translate(1037,1078)"><use href="#cF"/><text y="33">dx47</text><text y="48">EH</text><path class="tk" d="M0,50v5"/><text y="63">AB</text><text class="x" x="-12" y="58">x</text></g>
<g id="p19-20" class="n s" transform="translate(1070,1078)"><use href="#cO"/><text y="33">51</text><text y="48">EH</text><path class="tk" d="M0,50v5"/><text y="63">BB</text></g>
<g id="p19-21" class="n s" transform="translate(1102,1078)"><use href="#cF"/><text y="33">dx38</text><text y="48">BH</text><path class="tk" d="M0,50v5"/><text y="63">AB</text></g>
<g id="p19-22" class="n s" transform="translate(1134,1078)"><use href="#cO"/><text y="33">38</text><text y="48">EH</text><path class="tk" d="M0,50v5"/><text y="63">BB</text></g>
<g id="p19-23" class="n s" transform="translate(1267,1078)"><use href="#cF"/><text y="33">dx47</text><text y="48">EC</text><path class="tk" d="M0,50v5"/><text y="63">BA</text></g>
<g id="p19-24" class="n s" transform="translate(1300,1078)"><use href="#cO"/><text y="33">34</text><text y="48">EG</text><path class="tk" d="M0,50v5"/><text y="63">BA</text><text class="x" x="12" y="58">x</text></g>
</g>

<g id="pedigree-20">
<text class="tt" x="1862" y="882">20</text>
<g id="p20-01" class="n s" transform="translate(1643,930)"><use href="#cFX"/><text y="24">dx50</text></g>
<g id="p20-02" class="n s" transform="translate(1676,930)"><use href="#cSX"/></g>
<g id="p20-03" class="n s" transform="translate(1707,930)"><use href="#cFX"/><text y="24">dx87</text></g>
<g id="p20-04" class="n s" transform="translate(1747,930)"><use href="#cSX"/></g>
<g id="p20-05" class="n s" transform="translate(1778,930)"><use href="#cOX"/><text y="24">91</text></g>
<g id="p20-06" class="n s" transform="translate(1818,930)"><use href="#cFX"/><text y="24">dx&gt;70</text></g>
<g id="p20-07" class="n s" transform="translate(1866,930)"><use href="#cSX"/></g>
<g id="p20-08" class="n s" transform="translate(1897,930)"><use href="#cOX"/><text y="24">79</text></g>
<g id="p20-09" class="n s" transform="translate(1943,930)"><use href="#cFX"/><text y="24">dx47</text></g>
<g id="p20-10" class="n s" transform="translate(2000,930)"><use href="#cSX"/></g>
<g id="p20-11" class="n s" transform="translate(2030,930)"><use href="#cOX"/><text y="24">88</text></g>
<g id="p20-12" class="n s" transform="translate(2081,930)"><use href="#cFX"/><text y="24">dx45</text></g>
<g id="p20-13" class="n s" transform="translate(1643,1008)"><use href="#cF"/><text y="24">dx52</text><text y="39">AC</text></g>
<g id="p20-14" class="n s" transform="translate(1676,1008)"><use href="#cO"/><text y="39">AF</text></g>
<g id="p20-15" class="n s" transform="translate(1731,1008)"><use href="#cF"/><text y="24">dx58</text><text y="39">EF</text></g>
<g id="p20-16" class="n s" transform="translate(1764,1008)"><use href="#cS"/><text y="39">BE</text></g>
<g id="p20-17" class="n s" transform="translate(1795,1008)"><use href="#cS"/><text y="39">BE</text></g>
<g id="p20-18" class="n s" transform="translate(1849,1008)"><use href="#cF"/><text y="24">dx71</text><text y="39">BE</text></g>
<g id="p20-19" class="n s" transform="translate(1880,1008)"><use href="#cO"/><text y="24">70</text><text y="39">BD</text></g>
<g id="p20-20" class="n s" transform="translate(1913,1008)"><use href="#cS"/><text y="39">DF</text></g>
<g id="p20-21" class="n s" transform="translate(1959,1008)"><use href="#cS"/><text y="39">BD</text></g>
<g id="p20-22" class="n s" transform="translate(1992,1008)"><use href="#cO"/><text y="24">63</text><text y="39">BC</text></g>
<g id="p20-23" class="n s" transform="translate(2023,1008)"><use href="#cO"/><text y="24">59</text><text y="39">BD</text></g>
<g id="p20-24" class="n s" transform="translate(2056,1008)"><use href="#cF"/><text y="24">dx58</text><text y="39">BD</text></g>
<g id="p20-25" class="n s" transform="translate(1961,1088)"><use href="#cO"/><text y="24">41</text><text y="39">BC</text></g>
<g id="p20-26" class="n s" transform="translate(1992,1088)"><use href="#cF"/><text y="24">dx36</text><text y="39">DB</text></g>
</g>

<g id="pedigree-21">
<text class="tt" x="1221" y="1173">21</text>
<g id="p21-01" class="n s" transform="translate(1199,1203)"><use href="#cSX"/><text x="-2" y="41">(AC)</text></g>
<g id="p21-02" class="n s" transform="translate(1247,1203)"><use href="#cF"/><text y="26">dx79</text><text y="41">AB</text></g>
<g id="p21-03" class="n s" transform="translate(1153,1283)"><use href="#cO"/><text y="24">70</text><text y="40">AA</text></g>
<g id="p21-04" class="n s" transform="translate(1199,1283)"><use href="#cO"/><text y="24">66</text><text y="40">AC</text></g>
<g id="p21-05" class="n s" transform="translate(1247,1283)"><use href="#cF"/><text y="24">dx49</text><text y="40">BC</text></g>
<g id="p21-06" class="n s" transform="translate(1294,1283)"><use href="#cF"/><text y="24">dx48</text><text y="40">BC</text></g>
</g>

<g id="pedigree-22">
<text class="tt" x="1544" y="1172">22</text>
<g id="p22-01" class="n s" transform="translate(1439,1220)"><use href="#cFX"/><text y="24">dx46</text><text y="40">(CE)</text></g>
<g id="p22-02" class="n s" transform="translate(1470,1220)"><use href="#cSX"/><text y="40">(FG)</text></g>
<g id="p22-03" class="n s" transform="translate(1535,1220)"><use href="#cFX"/><text y="24">dx55</text><text y="40">DE</text></g>
<g id="p22-04" class="n s" transform="translate(1567,1220)"><use href="#cSX"/><text y="40">(DE)</text></g>
<g id="p22-05" class="n s" transform="translate(1614,1220)"><use href="#cF"/><text y="24">dx78</text><text y="40">BD</text></g>
<g id="p22-06" class="n s" transform="translate(1646,1220)"><use href="#cS"/><text y="40">AC</text></g>
<g id="p22-07" class="n s" transform="translate(1423,1306)"><use href="#cO"/><text y="25">75</text><text y="40">CF</text></g>
<g id="p22-08" class="n s" transform="translate(1455,1306)"><use href="#cF"/><text y="25">dx58</text><text y="40">EG</text></g>
<g id="p22-09" class="n s" transform="translate(1487,1306)"><use href="#cF"/><text y="25">dx62</text><text y="40">EG</text></g>
<g id="p22-10" class="n s" transform="translate(1535,1306)"><use href="#cF"/><text y="25">dx57</text><text y="40">DD</text></g>
<g id="p22-11" class="n s" transform="translate(1566,1306)"><use href="#cF"/><text y="25">dx62</text><text y="40">EE</text></g>
<g id="p22-12" class="n s" transform="translate(1631,1306)"><use href="#cF"/><text y="25">dx57</text><text y="40">BC</text></g>
</g>

<g id="pedigree-23">
<text class="tt" x="1869" y="1171">23</text>
<g id="p23-01" class="n s" transform="translate(1776,1219)"><use href="#cFX"/><text y="24">dx70</text></g>
<g id="p23-02" class="n s" transform="translate(1823,1219)"><use href="#cO"/><text y="24">40</text><text y="40">AC</text></g>
<g id="p23-03" class="n s" transform="translate(1869,1219)"><use href="#cF"/><text y="24">dx72</text><text y="40">AC</text></g>
<g id="p23-04" class="n s" transform="translate(1917,1219)"><use href="#cF"/><text y="24">dx54</text><text y="40">AB</text></g>
<g id="p23-05" class="n s" transform="translate(1964,1219)"><use href="#cF"/><text y="24">dx57</text><text y="40">AB</text></g>
</g>
</svg>
